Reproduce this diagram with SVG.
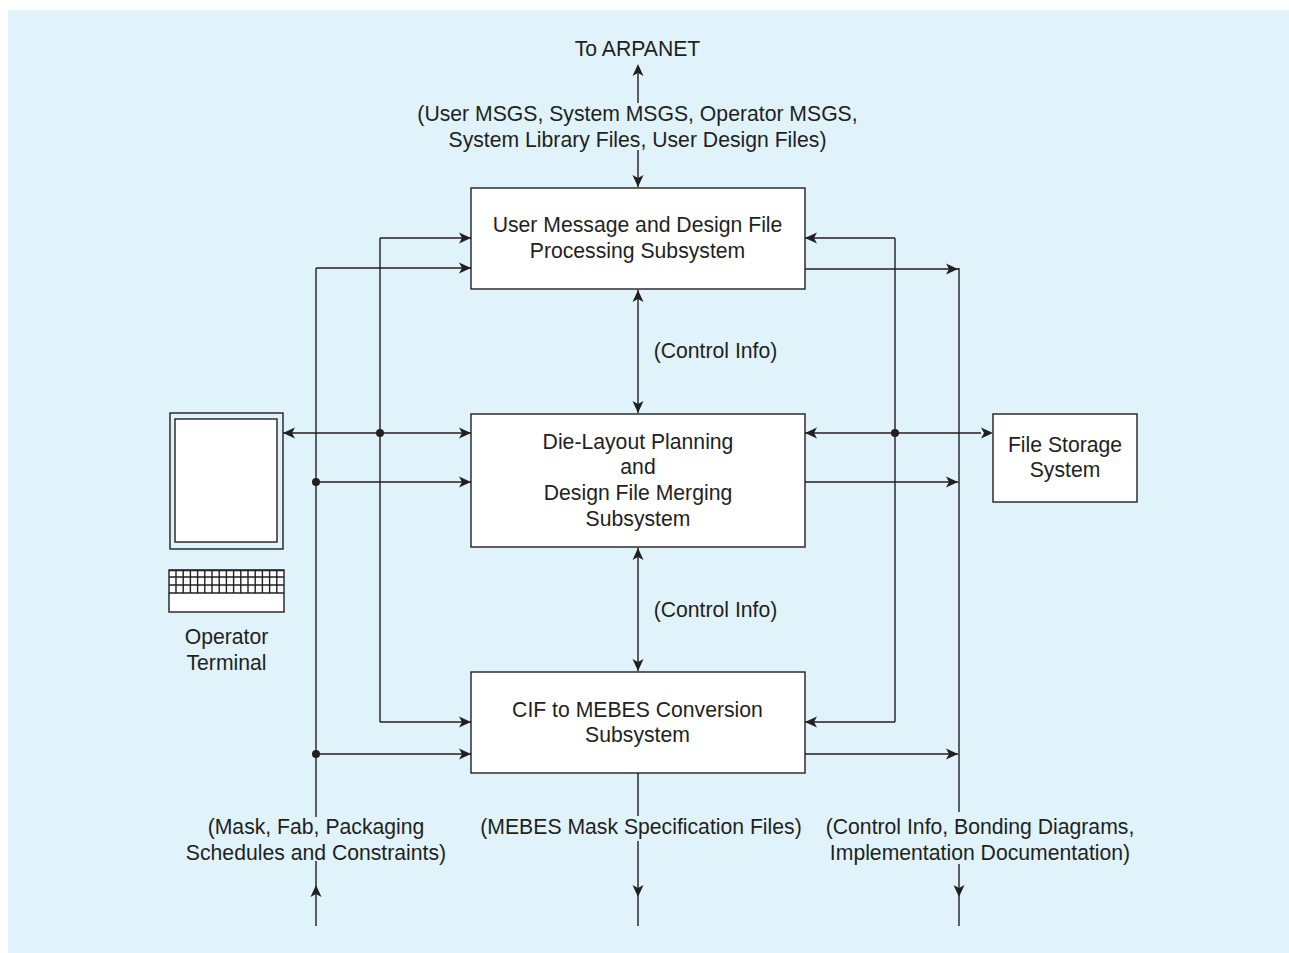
<svg xmlns="http://www.w3.org/2000/svg" width="1289" height="953" viewBox="0 0 1289 953">
<style>
.t{font-family:"Liberation Sans",Arial,sans-serif;font-size:21.2px;fill:#231f20;text-anchor:middle}
.b{fill:#fff;stroke:#231f20;stroke-width:1.4}
.c{fill:none;stroke:#231f20;stroke-width:1.4}
.a{fill:#231f20;stroke:none}
</style>
<defs>
<path id="ar" class="a" d="M0 0L-12 -5.500L-9 0L-12 5.500Z"/>
<g id="dot"><circle r="4" class="a"/></g>
</defs>
<rect x="8" y="10" width="1281" height="943" fill="#e0f3fb"/>
<g id="connectors">
<path class="c" d="M638 66V103M638 150V187M638 290V413M638 548V671M638 773V816M638 841V926"/>
<path class="c" d="M316 268V817M316 861V926M380 238V722M895 238V722M959 268V812"/>
<path class="c" d="M959 864V926"/>
<path class="c" d="M471 268H316M471 238H380M380 722H471M316 754H471M316 482H471M283 433H471"/>
<path class="c" d="M805 238H895M805 269H959M805 433H981M805 482H958M805 722H895M805 754H958"/>
<use href="#ar" transform="translate(638 64) rotate(-90)"/>
<use href="#ar" transform="translate(638 187) rotate(90)"/>
<use href="#ar" transform="translate(638 290) rotate(-90)"/>
<use href="#ar" transform="translate(638 413) rotate(90)"/>
<use href="#ar" transform="translate(638 548) rotate(-90)"/>
<use href="#ar" transform="translate(638 671) rotate(90)"/>
<use href="#ar" transform="translate(638 897) rotate(90)"/>
<use href="#ar" transform="translate(316 885) rotate(-90)"/>
<use href="#ar" transform="translate(959 897) rotate(90)"/>
<use href="#ar" transform="translate(471 238)"/>
<use href="#ar" transform="translate(471 268)"/>
<use href="#ar" transform="translate(471 433)"/>
<use href="#ar" transform="translate(471 482)"/>
<use href="#ar" transform="translate(471 722)"/>
<use href="#ar" transform="translate(471 754)"/>
<use href="#ar" transform="translate(283 433) rotate(180)"/>
<use href="#ar" transform="translate(805 238) rotate(180)"/>
<use href="#ar" transform="translate(805 433) rotate(180)"/>
<use href="#ar" transform="translate(805 722) rotate(180)"/>
<use href="#ar" transform="translate(958 269)"/>
<use href="#ar" transform="translate(958 482)"/>
<use href="#ar" transform="translate(958 754)"/>
<use href="#ar" transform="translate(993 433)"/>
<use href="#dot" x="380" y="433"/>
<use href="#dot" x="316" y="482"/>
<use href="#dot" x="316" y="754"/>
<use href="#dot" x="895" y="433"/>
</g>
<g id="n-user"><rect class="b" x="471" y="188" width="334" height="101"/>
<text class="t" x="637.500" y="232">User Message and Design File</text><text class="t" x="637.500" y="258">Processing Subsystem</text></g>
<g id="n-die"><rect class="b" x="471" y="414" width="334" height="133"/>
<text class="t" x="638" y="449">Die-Layout Planning</text><text class="t" x="638" y="474">and</text><text class="t" x="638" y="500">Design File Merging</text><text class="t" x="638" y="526">Subsystem</text></g>
<g id="n-cif"><rect class="b" x="471" y="672" width="334" height="101"/>
<text class="t" x="637.500" y="717">CIF to MEBES Conversion</text><text class="t" x="637.500" y="742">Subsystem</text></g>
<g id="n-file"><rect class="b" x="993" y="414" width="144" height="88"/>
<text class="t" x="1065" y="452">File Storage</text><text class="t" x="1065" y="477">System</text></g>
<g id="n-terminal">
<rect class="c" x="170" y="413" width="113" height="136"/>
<rect class="b" x="175" y="419" width="102" height="123"/>
<rect class="b" x="169" y="570" width="115" height="42"/>
<path class="c" stroke-width="1" d="M169 577H284M169 585H284M176 570V593M183.200 570V593M190.400 570V593M197.600 570V593M204.800 570V593M212 570V593M219.200 570V593M226.400 570V593M233.600 570V593M240.800 570V593M248 570V593M255.200 570V593M262.400 570V593M269.600 570V593M276.800 570V593"/>
<path class="c" stroke-width="1.800" d="M169 570.500H284M169 593H284"/>
<text class="t" x="226.500" y="644">Operator</text><text class="t" x="226.500" y="670">Terminal</text></g>
<g id="labels">
<text class="t" x="637.500" y="56">To ARPANET</text>
<text class="t" x="637.500" y="121">(User MSGS, System MSGS, Operator MSGS,</text>
<text class="t" x="637.500" y="147">System Library Files, User Design Files)</text>
<text class="t" x="715.500" y="358">(Control Info)</text>
<text class="t" x="715.500" y="617">(Control Info)</text>
<text class="t" x="316" y="834">(Mask, Fab, Packaging</text>
<text class="t" x="316" y="860">Schedules and Constraints)</text>
<text class="t" x="641" y="834">(MEBES Mask Specification Files)</text>
<text class="t" x="980" y="834">(Control Info, Bonding Diagrams,</text>
<text class="t" x="980" y="860">Implementation Documentation)</text>
</g>
</svg>
